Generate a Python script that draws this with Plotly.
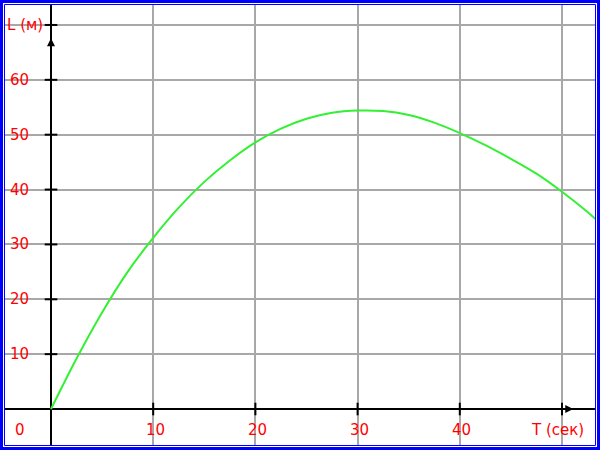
import plotly.graph_objects as go

# Data
t_values = [0, 2.5, 5, 7.5, 10, 12.5, 15, 17.5, 20, 22.5, 25, 27.5, 30, 32.5,
            35, 37.5, 40, 42.5, 45, 47.5, 50, 52.5, 54]
l_values = [0, 9.2, 17.6, 25.0, 31.2, 36.7, 41.4, 45.3, 48.6, 51.1, 52.9, 54.0,
            54.4, 54.3, 53.6, 52.2, 50.3, 48.1, 45.6, 42.9, 39.6, 35.9, 33.4]

x_ticks = [10, 20, 30, 40]
x_tick_labels = ["10", "20", "30", "40"]
y_ticks = [10, 20, 30, 40, 50, 60]
y_tick_labels = ["10", "20", "30", "40", "50", "60"]
x_title = "T (сек)"
y_title = "L (м)"
origin_label = "0"

W, H = 600, 450
x_range = [-4.99, 53.72]
y_range = [-7.47, 74.55]

RED = "#ff0000"
FONT = "DejaVu Sans, Liberation Sans, Arial, sans-serif"
FS = 15

fig = go.Figure()

# curve
fig.add_trace(go.Scatter(x=t_values, y=l_values, mode="lines",
                         line=dict(color="#33f033", width=2, shape="spline", smoothing=0.8),
                         hoverinfo="skip", showlegend=False))

# tick marks on the axes
fig.add_trace(go.Scatter(x=[0] * (len(y_ticks) + 1), y=y_ticks + [70], mode="markers",
                         marker=dict(symbol="line-ew", size=9,
                                     line=dict(color="black", width=2)),
                         hoverinfo="skip", showlegend=False))
fig.add_trace(go.Scatter(x=x_ticks + [50], y=[0] * (len(x_ticks) + 1), mode="markers",
                         marker=dict(symbol="line-ns", size=9,
                                     line=dict(color="black", width=2)),
                         hoverinfo="skip", showlegend=False))

# arrows
fig.add_trace(go.Scatter(x=[0], y=[67.6], mode="markers",
                         marker=dict(symbol="arrow-up", size=8, color="black"),
                         hoverinfo="skip", showlegend=False))
fig.add_trace(go.Scatter(x=[51.1], y=[0], mode="markers",
                         marker=dict(symbol="arrow-right", size=8, color="black"),
                         hoverinfo="skip", showlegend=False))

annotations = []
for v, lab in zip(y_ticks, y_tick_labels):
    annotations.append(dict(x=-1.96, y=v, text=lab, xanchor="right", yanchor="middle",
                            showarrow=False, font=dict(color=RED, size=FS, family=FONT)))
annotations.append(dict(x=-0.6, y=70, text=y_title, xanchor="right", yanchor="middle",
                        showarrow=False, font=dict(color=RED, size=FS, family=FONT)))
for v, lab in zip(x_ticks, x_tick_labels):
    annotations.append(dict(x=v + 0.2, y=-3.83, text=lab, xanchor="center", yanchor="middle",
                            showarrow=False, font=dict(color=RED, size=FS, family=FONT)))
annotations.append(dict(x=49.6, y=-3.83, text=x_title, xanchor="center", yanchor="middle",
                        showarrow=False, font=dict(color=RED, size=FS, family=FONT)))
annotations.append(dict(x=-3.0, y=-3.83, text=origin_label, xanchor="center", yanchor="middle",
                        showarrow=False, font=dict(color=RED, size=FS, family=FONT)))

shapes = [
    dict(type="rect", xref="paper", yref="paper", x0=2.5 / W, y0=2.5 / H,
         x1=1 - 2.5 / W, y1=1 - 2.5 / H, line=dict(color="white", width=5)),
    dict(type="rect", xref="paper", yref="paper", x0=1.5 / W, y0=1.5 / H,
         x1=1 - 1.5 / W, y1=1 - 1.5 / H, line=dict(color="#0000ff", width=3)),
    dict(type="rect", xref="paper", yref="paper", x0=4.5 / W, y0=4.5 / H,
         x1=1 - 4.5 / W, y1=1 - 4.5 / H, line=dict(color="#0000ff", width=1)),
]

fig.update_layout(
    width=W, height=H,
    margin=dict(l=0, r=0, t=0, b=0),
    paper_bgcolor="white", plot_bgcolor="white",
    showlegend=False,
    xaxis=dict(range=x_range, dtick=10, tick0=0, showgrid=True, gridcolor="#a8a8a8",
               gridwidth=2, zeroline=True, zerolinecolor="black", zerolinewidth=2,
               showticklabels=False, ticks="", showline=False, fixedrange=True),
    yaxis=dict(range=y_range, dtick=10, tick0=0, showgrid=True, gridcolor="#a8a8a8",
               gridwidth=2, zeroline=True, zerolinecolor="black", zerolinewidth=2,
               showticklabels=False, ticks="", showline=False, fixedrange=True),
    annotations=annotations,
    shapes=shapes,
)

fig.write_html("out.html", config={"displayModeBar": False},
               post_script="document.body.style.margin='0';document.body.style.padding='0';"
                           "document.documentElement.style.overflow='hidden';")
